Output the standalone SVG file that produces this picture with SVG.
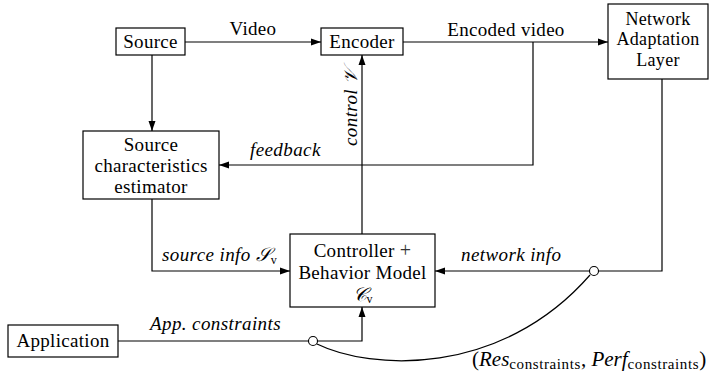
<svg xmlns="http://www.w3.org/2000/svg" width="709" height="375" viewBox="0 0 709 375">
<defs>
<style>
.box{fill:#fff;stroke:#000;stroke-width:1.2}
.t{font-family:"Liberation Serif",serif;font-size:19px;letter-spacing:0.3px;fill:#000;text-anchor:middle}
.n{font-size:18px}
.i{font-family:"Liberation Serif",serif;font-size:19px;letter-spacing:0.4px;font-style:italic;fill:#000}
.m{font-family:"Liberation Serif",serif;font-size:19px;font-style:italic;fill:#000;letter-spacing:0}
.sub{font-family:"Liberation Serif",serif;font-size:12px;fill:#000;letter-spacing:0;font-style:normal}
.pm{font-family:"Liberation Serif",serif;font-size:21px;font-style:italic;fill:#000}
.pn{font-family:"Liberation Serif",serif;font-size:21px;font-style:normal;fill:#000}
.ps{font-family:"Liberation Serif",serif;font-size:15px;font-style:normal;letter-spacing:0.6px;fill:#000}
.ln{fill:none;stroke:#000;stroke-width:1.2}
</style>
<marker id="ar" viewBox="0 0 10 10" refX="10" refY="5" markerWidth="10" markerHeight="10" markerUnits="userSpaceOnUse" orient="auto">
<path d="M0,1.5 L10,5 L0,8.5 Z" fill="#000"/>
</marker>
</defs>
<rect width="709" height="375" fill="#fff"/>
<g id="connectors">
<line class="ln" x1="185" y1="42" x2="321" y2="42" marker-end="url(#ar)"/>
<line class="ln" x1="403" y1="42" x2="608" y2="42" marker-end="url(#ar)"/>
<line class="ln" x1="152" y1="55" x2="152" y2="131" marker-end="url(#ar)"/>
<polyline class="ln" points="533,42 533,165 219,165" marker-end="url(#ar)"/>
<line class="ln" x1="362" y1="234" x2="362" y2="55" marker-end="url(#ar)"/>
<polyline class="ln" points="152,199 152,271 290,271" marker-end="url(#ar)"/>
<polyline class="ln" points="662,79 662,271 435,271" marker-end="url(#ar)"/>
<polyline class="ln" points="118,341 362,341 362,307" marker-end="url(#ar)"/>
<path class="ln" d="M317,344 C370,370 500,378 590,275"/>
<circle cx="313" cy="341" r="4.5" fill="#fff" stroke="#000" stroke-width="1.1"/>
<circle cx="594" cy="271" r="4.5" fill="#fff" stroke="#000" stroke-width="1.1"/>
<text class="t" x="253" y="35">Video</text>
<text class="t" x="506" y="36">Encoded video</text>
<text class="i" x="250" y="156">feedback</text>
<text class="i" transform="translate(357,146) rotate(-90)">control <tspan class="m">𝒱</tspan></text>
<text class="i" x="162" y="261">source info <tspan class="m">𝒮</tspan><tspan class="sub" dy="3">v</tspan></text>
<text class="i" x="461" y="261">network info</text>
<text class="i" x="150" y="330">App. constraints</text>
<text x="472" y="366"><tspan class="pn">(</tspan><tspan class="pm">Res</tspan><tspan class="ps" dy="3">constraints</tspan><tspan class="pn" dy="-3">, </tspan><tspan class="pm">Perf</tspan><tspan class="ps" dy="3">constraints</tspan><tspan class="pn" dy="-3">)</tspan></text>
</g>
<g id="source">
<rect class="box" x="116" y="28" width="69" height="27"/>
<text class="t" x="150.5" y="48">Source</text>
</g>
<g id="encoder">
<rect class="box" x="321" y="28" width="82" height="27"/>
<text class="t" x="362" y="48">Encoder</text>
</g>
<g id="nal">
<rect class="box" x="608" y="4" width="100" height="75"/>
<text class="t n" x="658" y="25">Network</text>
<text class="t n" x="658" y="45">Adaptation</text>
<text class="t n" x="658" y="66">Layer</text>
</g>
<g id="estimator">
<rect class="box" x="83" y="131" width="136" height="68"/>
<text class="t" x="151" y="151">Source</text>
<text class="t" x="151" y="172">characteristics</text>
<text class="t" x="151" y="193">estimator</text>
</g>
<g id="controller">
<rect class="box" x="290" y="234" width="145" height="73"/>
<text class="t" x="362.5" y="257">Controller <tspan font-size="20" fill="#333">+</tspan></text>
<text class="t" x="362.5" y="279">Behavior Model</text>
<text class="t" x="362.5" y="301"><tspan class="m">𝒞</tspan><tspan class="sub" dy="2">v</tspan></text>
</g>
<g id="application">
<rect class="box" x="8" y="325" width="110" height="32"/>
<text class="t" x="63" y="347">Application</text>
</g>
</svg>
